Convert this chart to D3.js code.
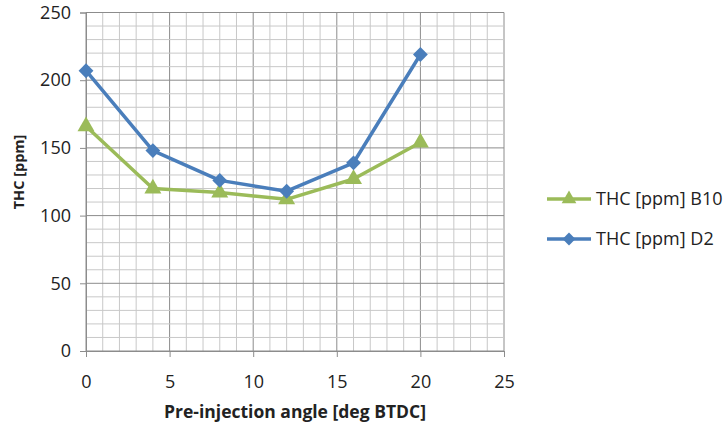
<!DOCTYPE html>
<html><head><meta charset="utf-8">
<script src="https://cdn.jsdelivr.net/npm/d3@7"></script>
<style>body{margin:0;background:#fff}svg{display:block}</style>
</head><body>
<svg id="c" width="728" height="427"></svg>
<script>
const xValues = [0, 4, 8, 12, 16, 20];
const seriesNames = ["THC [ppm] B10", "THC [ppm] D2"];
const b10Values = [166, 120, 117, 112, 127, 154];
const d2Values = [207, 148, 126, 118, 139, 219];
const xTicks = [0, 5, 10, 15, 20, 25];
const yTicks = [0, 50, 100, 150, 200, 250];

const svg = d3.select("#c");
const font = "'Open Sans', 'Liberation Sans', sans-serif";
const x = d3.scaleLinear().domain([0, 25]).range([86, 504]);
const y = d3.scaleLinear().domain([0, 250]).range([351, 12.5]);

const g = svg.append("g");
g.selectAll(".vx").data(d3.range(0, 26, 1)).join("line")
  .attr("x1", d => x(d)).attr("x2", d => x(d)).attr("y1", y(0)).attr("y2", y(250))
  .attr("stroke", d => d % 5 === 0 ? "#8c8c8c" : "#c8c8c8").attr("stroke-width", 1);
g.selectAll(".hy").data(d3.range(0, 251, 10)).join("line")
  .attr("x1", x(0)).attr("x2", x(25)).attr("y1", d => y(d)).attr("y2", d => y(d))
  .attr("stroke", d => d % 50 === 0 ? "#8c8c8c" : "#c8c8c8").attr("stroke-width", 1);

const xAxis = d3.axisBottom(x).tickValues(xTicks).tickSize(6).tickPadding(18);
const yAxis = d3.axisLeft(y).tickValues(yTicks).tickSize(6).tickPadding(9);
const gx = svg.append("g").attr("transform", `translate(0,${y(0)})`).call(xAxis);
const gy = svg.append("g").attr("transform", `translate(${x(0)},0)`).call(yAxis);
[gx, gy].forEach(a => {
  a.select(".domain").attr("stroke", "#8c8c8c");
  a.selectAll(".tick line").attr("stroke", "#8c8c8c");
  a.selectAll("text").attr("font-family", font).attr("font-size", 18).attr("fill", "#222");
});

const diamond = d3.symbolSquare;
const data = [
  {name: seriesNames[0], vals: b10Values, color: "#9bbb59", shape: d3.symbolTriangle, size: 125, rot: 0},
  {name: seriesNames[1], vals: d2Values, color: "#4a7ebb", shape: diamond, size: 110, rot: 45}
];
const line = d3.line().x(d => x(d[0])).y(d => y(d[1]));
data.forEach(s => {
  const pts = xValues.map((v, i) => [v, s.vals[i]]);
  svg.append("path").datum(pts).attr("d", line).attr("fill", "none")
    .attr("stroke", s.color).attr("stroke-width", 3.5).attr("stroke-linejoin", "round");
  svg.selectAll(null).data(pts).join("path")
    .attr("d", d3.symbol().type(s.shape).size(s.size))
    .attr("transform", d => `translate(${x(d[0])},${y(d[1])}) rotate(${s.rot})`)
    .attr("fill", s.color);
});

svg.append("text").attr("x", 295).attr("y", 418).attr("text-anchor", "middle")
  .attr("font-family", font).attr("font-weight", "bold").attr("font-size", 17.5).attr("fill", "#222")
  .text("Pre-injection angle [deg BTDC]");
svg.append("text").attr("transform", "translate(24,172) rotate(-90)").attr("text-anchor", "middle")
  .attr("font-family", font).attr("font-weight", "bold").attr("font-size", 14.5).attr("fill", "#222")
  .text("THC [ppm]");

data.forEach((s, i) => {
  const ly = 199 + i * 40;
  svg.append("line").attr("x1", 547).attr("x2", 591).attr("y1", ly).attr("y2", ly)
    .attr("stroke", s.color).attr("stroke-width", 3.5);
  svg.append("path").attr("d", d3.symbol().type(s.shape).size(s.size * 0.75))
    .attr("transform", `translate(569,${ly}) rotate(${s.rot})`).attr("fill", s.color);
  svg.append("text").attr("x", 596).attr("y", ly + 6).attr("font-family", font)
    .attr("font-size", 18).attr("fill", "#222").text(s.name);
});
</script>
</body></html>
